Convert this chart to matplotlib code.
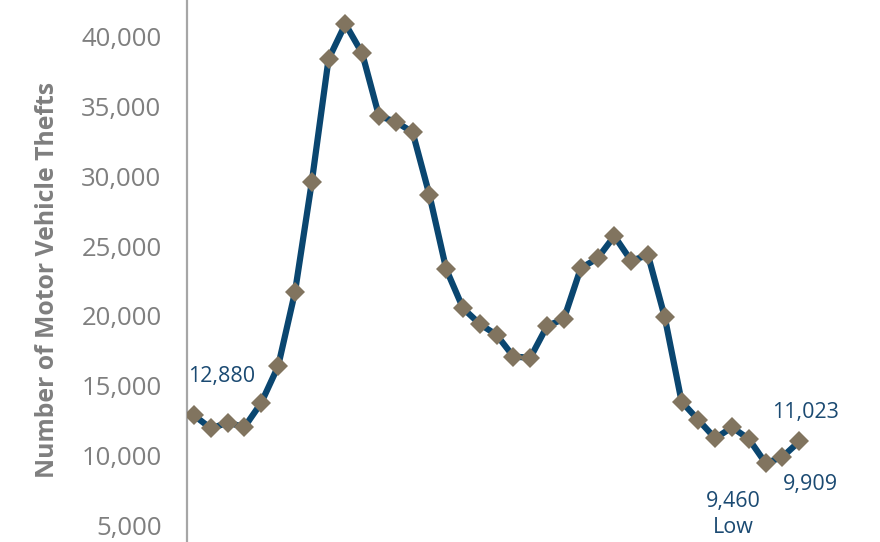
import matplotlib
matplotlib.use("Agg")
import matplotlib.pyplot as plt
from matplotlib.ticker import FuncFormatter

# --- data ---
thefts = [12880, 11950, 12360, 12050, 13790, 16400, 21690, 29570, 38390, 40900,
          38800, 34310, 33900, 33150, 28660, 23340, 20550, 19420, 18640, 17090,
          17010, 19280, 19800, 23410, 24130, 25720, 23950, 24360, 19900, 13860,
          12550, 11240, 12030, 11190, 9460, 9909, 11023]
points = list(range(len(thefts)))
y_ticks = [5000, 10000, 15000, 20000, 25000, 30000, 35000, 40000]
y_label = "Number of Motor Vehicle Thefts"

LINE = "#0a4670"
MARKER = "#81745f"
TICK_GREY = "#7f7f7f"
NOTE = "#1b4a72"

plt.rcParams["font.family"] = ["Open Sans", "DejaVu Sans"]

fig = plt.figure(figsize=(8.8, 5.42), dpi=100)
ax = fig.add_axes([0.212, 0.0, 0.788, 1.0])

ax.plot(points, thefts, color=LINE, lw=4.5, marker="D", ms=10.5,
        mfc=MARKER, mec=MARKER, mew=0, zorder=3)

ax.set_ylim(3819, 42617)
ax.set_xlim(-0.446, 40.8)
ax.set_yticks(y_ticks)
ax.yaxis.set_major_formatter(FuncFormatter(lambda v, p: f"{int(v):,}"))
ax.tick_params(axis="y", length=0, pad=18, labelsize=18.5, labelcolor=TICK_GREY)
ax.set_xticks([])

for s in ["top", "right", "bottom"]:
    ax.spines[s].set_visible(False)
ax.spines["left"].set_color("#a6a6a6")
ax.spines["left"].set_linewidth(1.6)

ax.set_ylabel(y_label, fontsize=17.8, fontweight="bold", color=TICK_GREY)
ax.yaxis.set_label_coords(-0.182, 0.483)

# value callouts
first, last = 0, len(thefts) - 1
low = thefts.index(min(thefts))
ax.annotate(f"{thefts[first]:,}", (points[first], thefts[first]),
            xytext=(19.8, 27.9), textcoords="offset points",
            ha="center", va="center", fontsize=15.5, color=NOTE)
ax.annotate(f"{thefts[last]:,}", (points[last], thefts[last]),
            xytext=(4.7, 20.5), textcoords="offset points",
            ha="center", va="center", fontsize=15.5, color=NOTE)
ax.annotate(f"{thefts[last - 1]:,}", (points[last - 1], thefts[last - 1]),
            xytext=(20, -20), textcoords="offset points",
            ha="center", va="center", fontsize=15.5, color=NOTE)
ax.annotate(f"{thefts[low]:,}\nLow", (points[low], thefts[low]),
            xytext=(-23, -37), textcoords="offset points",
            ha="center", va="center", fontsize=15.5, color=NOTE,
            linespacing=1.35)

fig.savefig("out.png", dpi=100)
